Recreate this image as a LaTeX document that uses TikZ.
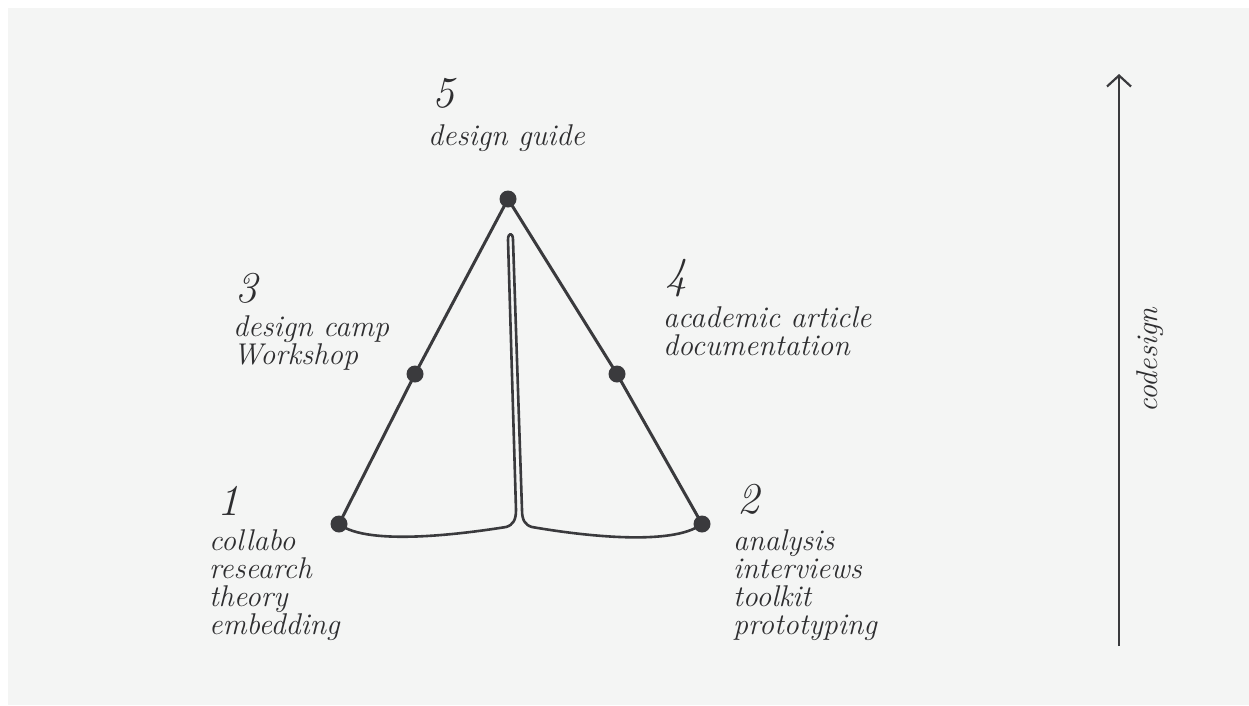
\documentclass[tikz,border=0pt]{standalone}
\usetikzlibrary{arrows.meta}
\definecolor{bg}{HTML}{F4F5F4}
\definecolor{ink}{HTML}{3A3A3D}
\definecolor{txt}{HTML}{2E2E30}
\begin{document}
\begin{tikzpicture}[x=1pt,y=-1pt,
  dot/.style={circle,fill=ink,inner sep=0pt,minimum size=17pt},
  edge/.style={draw=ink,line width=3pt,line cap=round,line join=round},
  lbl/.style={anchor=base west,align=left,inner sep=0pt,text=txt,
    font=\fontsize{30}{27.8}\selectfont\itshape},
  num/.style={anchor=base west,inner sep=0pt,text=txt,
    font=\fontsize{44}{44}\selectfont\itshape}]
\useasboundingbox (0,0) rectangle (1249,705);
\fill[white] (0,0) rectangle (1249,705);
\fill[bg] (8,8) rectangle (1249,705);
% dots
\node[dot] (n5) at (508,199) {};
\node[dot] (n3) at (415,374) {};
\node[dot] (n4) at (617,374) {};
\node[dot] (n1) at (339,524) {};
\node[dot] (n2) at (702,524) {};
% triangle
\draw[edge] (n1.center) -- (n3.center) -- (n5.center) -- (n4.center) -- (n2.center);
% inner loop
\draw[edge,line width=2.6pt] (n1.center) .. controls (368,547) and (468,533) .. (506,527)
  .. controls (513,525) and (516,520) .. (516,510) -- (508,240)
  .. controls (508,232) and (513,232) .. (513,240) -- (522,510)
  .. controls (522,520) and (525,525) .. (532,527)
  .. controls (578,535) and (672,547) .. (n2.center);
% labels (base = baseline of the last line)
\node[num] (t5) at (432,107) {5};
\node[lbl] (l5) at (428,145) {design guide};
\node[num] (t3) at (235,302) {3};
\node[lbl] (l3) at (233,364) {design camp\\Workshop};
\node[num] (t4) at (665,288) {4};
\node[lbl] (l4) at (663,355) {academic article\\documentation};
\node[num] (t1) at (217,515) {1};
\node[lbl] (l1) at (209,634) {collabo\\research\\theory\\embedding};
\node[num] (t2) at (737,513) {2};
\node[lbl] (l2) at (733,634) {analysis\\interviews\\toolkit\\prototyping};
% axis
\coordinate (a0) at (1119,646);
\coordinate (a1) at (1119,74);
\draw[draw=ink,line width=2.4pt,-{Straight Barb[length=11pt,width=24pt,line width=2.2pt]}] (a0) -- (a1);
\node[lbl,anchor=center,rotate=90] (cd) at (1150,360) {codesign};
\end{tikzpicture}
\end{document}
